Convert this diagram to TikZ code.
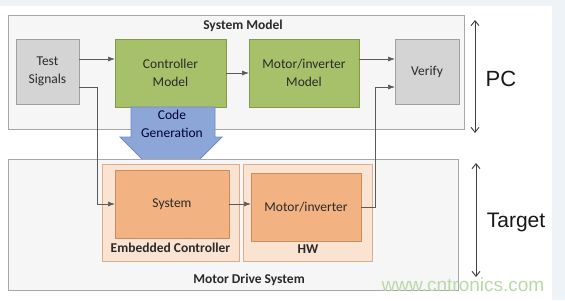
\documentclass[tikz,border=0pt]{standalone}
\usepackage{fontspec}
\setmainfont{Carlito}
\newfontfamily\arialfont{Liberation Sans}
\usetikzlibrary{arrows.meta}
\definecolor{bgblue}{HTML}{EEF3F8}
\definecolor{outerfill}{HTML}{F6F6F6}
\definecolor{outerdraw}{HTML}{A8A8A8}
\definecolor{grayfill}{HTML}{D4D4D4}
\definecolor{graydraw}{HTML}{A0A0A0}
\definecolor{greenfill}{HTML}{A7C16B}
\definecolor{greendraw}{HTML}{7F9A48}
\definecolor{orangefill}{HTML}{F2B282}
\definecolor{orangedraw}{HTML}{C98D5E}
\definecolor{peachfill}{HTML}{FBE3D2}
\definecolor{peachdraw}{HTML}{D9AE8E}
\definecolor{bluefill}{HTML}{8DA6D8}
\definecolor{bluedraw}{HTML}{6F8BC2}
\definecolor{linecol}{HTML}{5A5A5A}
\definecolor{txt}{HTML}{2A2A2A}
\definecolor{wmark}{HTML}{B9D9A6}
\tikzset{
  every node/.style={inner sep=0pt, outer sep=0pt, text=txt},
  boxfont/.style={font=\fontsize{13.5}{18}\selectfont, align=center},
  outerbox/.style={draw=outerdraw, fill=outerfill, line width=0.8pt, rectangle},
  graybox/.style={draw=graydraw, fill=grayfill, line width=0.8pt, rectangle, boxfont},
  greenbox/.style={draw=greendraw, fill=greenfill, line width=0.8pt, rectangle, boxfont},
  orangebox/.style={draw=orangedraw, fill=orangefill, line width=0.8pt, rectangle, boxfont},
  peachbox/.style={draw=peachdraw, fill=peachfill, line width=0.8pt, rectangle},
  boldlabel/.style={font=\bfseries\fontsize{13.5}{16}\selectfont},
  conn/.style={draw=linecol, line width=0.7pt, -{Latex[length=7pt,width=5pt]}},
  dblarrow/.style={draw=black!75, line width=0.9pt, {Straight Barb[length=5pt,width=8pt]}-{Straight Barb[length=5pt,width=8pt]}},
  biglabel/.style={font=\arialfont\fontsize{22}{24}\selectfont, text=black!90}
}
\begin{document}
\begin{tikzpicture}[x=1pt,y=-1pt]
\useasboundingbox (0,0) rectangle (565,300);
\fill[bgblue] (0,0) rectangle (565,300);
\fill[white] (0,6) rectangle (552,300);

% System Model
\node[outerbox, minimum width=456pt, minimum height=114pt] (sm) at (236,72) {};
\node[boldlabel] (smlabel) at (243,26) {System Model};
\node[graybox, minimum width=63pt, minimum height=65pt] (ts) at (47.5,71.5) {Test\\Signals};
\node[greenbox, minimum width=111pt, minimum height=68pt] (ctrl) at (170.5,73) {Controller\\Model};
\node[greenbox, minimum width=110pt, minimum height=68pt] (mm) at (304,73) {Motor/inverter\\Model};
\node[graybox, minimum width=64pt, minimum height=65pt] (vf) at (427,71.5) {Verify};

% Code generation arrow
\draw[draw=bluedraw, fill=bluefill, line width=0.8pt]
  (131,107) -- (215,107) -- (215,137) -- (222,137) -- (171,188) -- (120,137) -- (131,137) -- cycle;
\node[boxfont, text=black!80!blue] (cg) at (172,124) {Code\\Generation};

% Motor Drive System
\node[outerbox, minimum width=450pt, minimum height=131pt] (mds) at (233,224.5) {};
\node[boldlabel] (mdslabel) at (249,280) {Motor Drive System};
\node[peachbox, minimum width=137pt, minimum height=97pt] (ec) at (170.5,212.5) {};
\node[orangebox, minimum width=114pt, minimum height=68pt] (sys) at (172,204) {System};
\node[boldlabel] (eclabel) at (170.5,248) {Embedded Controller};
\node[peachbox, minimum width=129pt, minimum height=97pt] (hw) at (307.5,212.5) {};
\node[orangebox, minimum width=110pt, minimum height=68pt] (mi) at (306,207) {Motor/inverter};
\node[boldlabel] (hwlabel) at (308,249) {HW};

% connectors
\draw[conn] (ts.east |- 0,59) -- (ctrl.west |- 0,59);
\draw[conn] (ctrl.east) -- (mm.west);
\draw[conn] (mm.east |- 0,59) -- (vf.west |- 0,59);
\draw[conn] (ts.east |- 0,87) -- (97,87) |- (sys.west);
\draw[conn] (sys.east) -- (mi.west |- sys.east);
\draw[conn] (mi.east) -| (375,87) -- (vf.west |- 0,87);

% PC / Target
\coordinate (pctop) at (475,20);
\coordinate (pcbot) at (475,133);
\draw[dblarrow] (pctop) -- (pcbot);
\node[biglabel] (pc) at (501,79) {PC};
\coordinate (tgtop) at (476,163);
\coordinate (tgbot) at (476,277);
\draw[dblarrow] (tgtop) -- (tgbot);
\node[biglabel, font=\arialfont\fontsize{21}{24}\selectfont] (tg) at (516,222) {Target};

% watermark
\node[font=\arialfont\fontsize{19}{20}\selectfont, text=wmark] (wm) at (463,285) {www.cntronics.com};
\end{tikzpicture}
\end{document}
